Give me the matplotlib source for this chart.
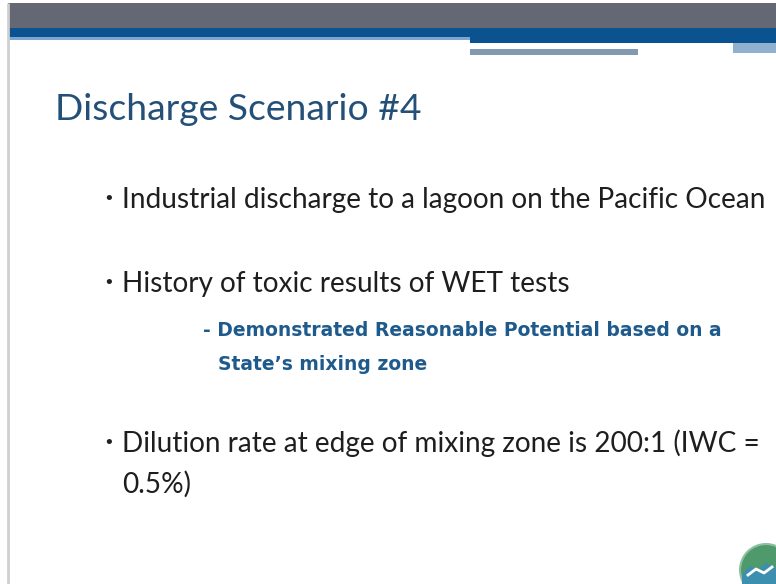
import matplotlib
matplotlib.use("Agg")
import matplotlib.pyplot as plt
from matplotlib.patches import Rectangle, Circle, Polygon
import numpy as np

# ---- content ----
title = "Discharge Scenario #4"
bullets = [
    "Industrial discharge to a lagoon on the Pacific Ocean",
    "History of toxic results of WET tests",
    "Dilution rate at edge of mixing zone is 200:1 (IWC =",
]
bullet_cont = ["", "", "0.5%)"]
sub_lines = ["- Demonstrated Reasonable Potential based on a", "State\u2019s mixing zone"]

# ---- layout (pixel coordinates) ----
W, H = 776, 584
bullet_y = [208, 292, 452]
cont_y = [None, None, 493]
sub_y = [336, 370]
sub_x = [203, 218]

fig = plt.figure(figsize=(W / 100, H / 100), dpi=100)
ax = fig.add_axes([0, 0, 1, 1])
ax.set_xlim(0, W)
ax.set_ylim(H, 0)
ax.axis("off")
fig.patch.set_facecolor("white")

# header bars
ax.add_patch(Rectangle((8, 3), W, 26, color="#646774", lw=0))
ax.add_patch(Rectangle((8, 28), W, 10, color="#0b5290", lw=0))
ax.add_patch(Rectangle((8, 37), 462, 3, color="#7aa6cf", lw=0))
ax.add_patch(Rectangle((470, 37), W, 6, color="#0b5290", lw=0))
ax.add_patch(Rectangle((733, 43), W, 10, color="#8fb0cf", lw=0))
ax.add_patch(Rectangle((470, 49), 168, 6, color="#8299b2", lw=0))
# left border line
ax.plot([8, 8], [3, H], color="#cfcfcf", lw=2, solid_capstyle="butt")

font = "Lato"

# title
ax.text(55, 120, title, fontsize=26.8, color="#245078", family=font,
        ha="left", va="baseline")

# bullets
for t, y, c, cy in zip(bullets, bullet_y, bullet_cont, cont_y):
    ax.text(103, y - 4, "\u2022", fontsize=13, color="#222222", family="DejaVu Sans",
            ha="left", va="baseline")
    ax.text(122, y, t, fontsize=20.2, color="#1e1e1e", family=font,
            ha="left", va="baseline", clip_on=True)
    if c:
        ax.text(122, cy, c, fontsize=20.2, color="#1e1e1e", family=font,
                ha="left", va="baseline")

# sub bullet
for t, x, y in zip(sub_lines, sub_x, sub_y):
    ax.text(x, y, t, fontsize=13.5, color="#1f5a8c", family="DejaVu Sans", weight="bold",
            ha="left", va="baseline")

# logo (partially clipped at bottom right)
ax.add_patch(Circle((766, 570), 26, facecolor="#4f9a6c", edgecolor="#8fc0a0", lw=1.5))
wave_x = np.array([742, 750, 758, 766, 776, 776, 742])
wave_y = np.array([574, 566, 570, 563, 568, 584, 584])
ax.add_patch(Polygon(np.c_[wave_x, wave_y], closed=True, facecolor="#3d8fb0", lw=0))
ax.plot([748, 756, 764, 772], [575, 569, 573, 567], color="white", lw=2)

fig.savefig("out.png", dpi=100)
